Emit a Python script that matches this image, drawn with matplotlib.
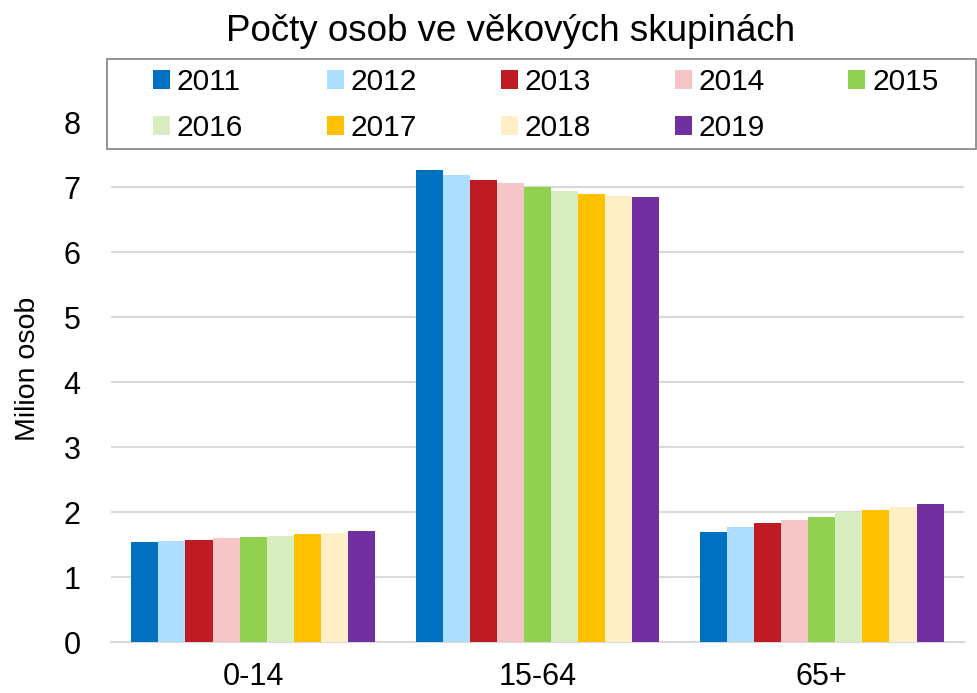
import matplotlib
matplotlib.use("Agg")
import matplotlib.pyplot as plt
from matplotlib.patches import Rectangle
import numpy as np

plt.rcParams['font.family'] = ['Liberation Sans', 'DejaVu Sans']

categories = ['0-14', '15-64', '65+']
years = ['2011', '2012', '2013', '2014', '2015', '2016', '2017', '2018', '2019']
values = {
    '2011': [1.54, 7.26, 1.70],
    '2012': [1.56, 7.19, 1.77],
    '2013': [1.58, 7.11, 1.83],
    '2014': [1.60, 7.06, 1.88],
    '2015': [1.62, 7.00, 1.93],
    '2016': [1.64, 6.94, 2.00],
    '2017': [1.67, 6.90, 2.04],
    '2018': [1.69, 6.87, 2.09],
    '2019': [1.71, 6.85, 2.13],
}
colors = ['#0070C0', '#ADDEFF', '#BE1B24', '#F6C5C8', '#92D050',
          '#D8EDC0', '#FFC000', '#FFEFC6', '#7030A0']
yticks = [0, 1, 2, 3, 4, 5, 6, 7, 8]

W, H = 978, 693
fig = plt.figure(figsize=(W / 100, H / 100), dpi=100)
ax = fig.add_axes([0.1135, 0.0729, 0.872, 0.751])

x = np.arange(len(categories))
w = 0.0953
n = len(years)
handles = []
for i, (yr, c) in enumerate(zip(years, colors)):
    b = ax.bar(x + (i - (n - 1) / 2) * w, values[yr], width=w, color=c,
               label=yr, zorder=3, linewidth=0)
    handles.append(b)

ax.set_xlim(-0.5, 2.5)
ax.set_ylim(0, 8)
ax.set_yticks(yticks)
ax.set_xticks(x)
ax.set_xticklabels(categories)
ax.tick_params(axis='both', length=0, labelsize=22, colors='black')
ax.tick_params(axis='y', pad=22)
ax.tick_params(axis='x', pad=14)
ax.grid(axis='y', color='#D9D9D9', linewidth=1.5, zorder=0)
for s in ['top', 'right', 'left']:
    ax.spines[s].set_visible(False)
ax.spines['bottom'].set_color('#D9D9D9')
ax.spines['bottom'].set_linewidth(1.5)
ax.set_ylabel('Milion osob', fontsize=20.5)
ax.yaxis.set_label_coords(-0.082, 0.526)

fig.text(0.522, 0.955, 'Počty osob ve věkových skupinách', ha='center', va='center', fontsize=26.5)

# legend frame (opaque box over the top of the plot)
frame = Rectangle((107 / W, 1 - 149 / H), (976 - 107) / W, (149 - 59) / H,
                  transform=fig.transFigure, facecolor='white', edgecolor='#808080',
                  linewidth=1.2, zorder=2)
fig.add_artist(frame)

# reorder so legend reads row by row
order = [0, 5, 1, 6, 2, 7, 3, 8, 4]
leg = fig.legend(handles=[handles[k] for k in order], labels=[years[k] for k in order], ncol=5,
                 loc='upper left', bbox_to_anchor=(153 / W, 1 - 68 / H),
                 bbox_transform=fig.transFigure,
                 fontsize=21.5, frameon=False,
                 handlelength=0.57, handleheight=0.57, handletextpad=0.23,
                 columnspacing=2.8, borderpad=0, labelspacing=0.61,
                 borderaxespad=0)
leg.set_zorder(5)

fig.savefig('out.png', dpi=100)
